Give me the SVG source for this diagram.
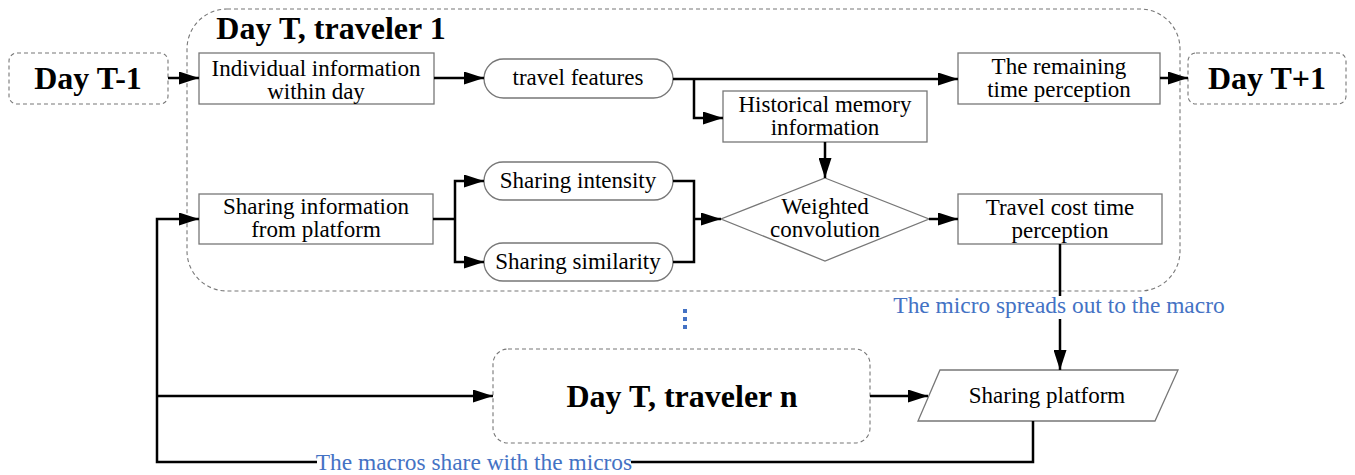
<svg xmlns="http://www.w3.org/2000/svg" width="1355" height="475" viewBox="0 0 1355 475">
<style>
.box{fill:#fff;stroke:#777;stroke-width:1.3}
.dash{fill:none;stroke:#777;stroke-width:1.1;stroke-dasharray:4 3}
.t{font-family:"Liberation Serif",serif;font-size:23px;fill:#000;text-anchor:middle}
.b{font-family:"Liberation Serif",serif;font-weight:bold;font-size:32px;fill:#000;text-anchor:middle}
.blue{font-family:"Liberation Serif",serif;font-size:23.4px;fill:#4472C4;text-anchor:middle}
.c{fill:none;stroke:#000;stroke-width:2.5}
</style>
<defs>
<marker id="ah" viewBox="0 0 20 13" refX="20" refY="6.5" markerWidth="20" markerHeight="13" markerUnits="userSpaceOnUse" orient="auto">
<path d="M0,0 L20,6.5 L0,13 z" fill="#000"/>
</marker>
</defs>
<rect width="1355" height="475" fill="#fff"/>

<g id="container1">
<rect class="dash" x="187" y="9" width="993" height="282" rx="40"/>
<text class="b" x="331" y="39">Day T, traveler 1</text>
</g>

<g id="dayT-1">
<rect class="dash" x="9" y="53" width="159" height="51" rx="8"/>
<text class="b" x="88" y="89">Day T-1</text>
</g>

<g id="dayT+1">
<rect class="dash" x="1188" y="53" width="158" height="51" rx="8"/>
<text class="b" x="1267" y="89">Day T+1</text>
</g>

<g id="individual">
<rect class="box" x="199" y="53" width="235" height="51"/>
<text class="t" x="316" y="76">Individual information</text>
<text class="t" x="316" y="99">within day</text>
</g>

<g id="travelfeatures">
<rect class="box" x="484" y="59" width="189" height="39" rx="19.5"/>
<text class="t" x="578" y="85">travel features</text>
</g>

<g id="historical">
<rect class="box" x="723" y="91" width="204" height="51"/>
<text class="t" x="825" y="112">Historical memory</text>
<text class="t" x="825" y="135">information</text>
</g>

<g id="remaining">
<rect class="box" x="958" y="53" width="202" height="51"/>
<text class="t" x="1059" y="74">The remaining</text>
<text class="t" x="1059" y="97">time perception</text>
</g>

<g id="sharinginfo">
<rect class="box" x="199" y="194" width="234" height="50"/>
<text class="t" x="316" y="214">Sharing information</text>
<text class="t" x="316" y="237">from platform</text>
</g>

<g id="intensity">
<rect class="box" x="484" y="162" width="189" height="38" rx="19"/>
<text class="t" x="578" y="188">Sharing intensity</text>
</g>

<g id="similarity">
<rect class="box" x="484" y="243" width="189" height="38" rx="19"/>
<text class="t" x="578" y="269">Sharing similarity</text>
</g>

<g id="weighted">
<polygon class="box" points="825,178 929,219 825,261 721,219"/>
<text class="t" x="825" y="214">Weighted</text>
<text class="t" x="825" y="237">convolution</text>
</g>

<g id="travelcost">
<rect class="box" x="958" y="194" width="204" height="50"/>
<text class="t" x="1060" y="215">Travel cost time</text>
<text class="t" x="1060" y="238">perception</text>
</g>

<g id="dots">
<rect x="683" y="309" width="4" height="4" fill="#4472C4"/>
<rect x="683" y="317" width="4" height="4" fill="#4472C4"/>
<rect x="683" y="325" width="4" height="4" fill="#4472C4"/>
</g>

<g id="travelerN">
<rect class="dash" x="493" y="349" width="377" height="94" rx="15"/>
<text class="b" x="682" y="407">Day T, traveler n</text>
</g>

<g id="platform">
<polygon class="box" points="940,370 1178,370 1155,421 918,421"/>
<text class="t" x="1047" y="403">Sharing platform</text>
</g>

<g id="connectors">
<path class="c" d="M168,78 H199" marker-end="url(#ah)"/>
<path class="c" d="M434,78 H484" marker-end="url(#ah)"/>
<path class="c" d="M673,79 H958" marker-end="url(#ah)"/>
<path class="c" d="M694,79 V118 H723" marker-end="url(#ah)"/>
<path class="c" d="M1160,78 H1188" marker-end="url(#ah)"/>
<path class="c" d="M825,142 V178" marker-end="url(#ah)"/>
<path class="c" d="M433,219 H455"/>
<path class="c" d="M455,219 V181 H484" marker-end="url(#ah)"/>
<path class="c" d="M455,219 V262 H484" marker-end="url(#ah)"/>
<path class="c" d="M673,181 H694 V262 H673"/>
<path class="c" d="M694,219 H721" marker-end="url(#ah)"/>
<path class="c" d="M929,219 H958" marker-end="url(#ah)"/>
<path class="c" d="M1060,244 V296"/>
<path class="c" d="M1060,319 V370" marker-end="url(#ah)"/>
<text class="blue" x="1059" y="313">The micro spreads out to the macro</text>
<path class="c" d="M1033,421 V462 H631"/>
<path class="c" d="M317,462 H157 V219 H199" marker-end="url(#ah)"/>
<path class="c" d="M157,396 H493" marker-end="url(#ah)"/>
<path class="c" d="M870,396 H928" marker-end="url(#ah)"/>
<text class="blue" x="474" y="470">The macros share with the micros</text>
</g>
</svg>
